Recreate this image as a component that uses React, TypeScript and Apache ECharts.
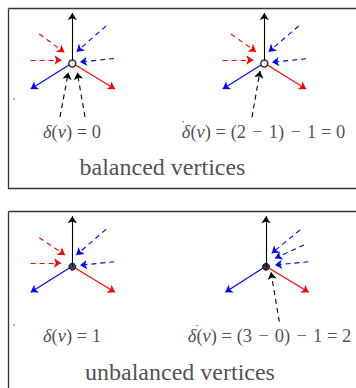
import React, { useEffect, useRef } from "react";
import * as echarts from "echarts";

type Edge = [number, number, number, number, string, boolean]; // x1,y1,x2,y2,color,dashed

const RED = "#ff0000";
const BLUE = "#0000ff";
const BLACK = "#000000";

// vertex positions and kind
const vertexPoints: [number, number][] = [[72.3, 63.5], [264.3, 63.5], [72.3, 266.7], [266, 266.7]];
const vertexFilled: boolean[] = [false, false, true, true];
const vertexFill: string[] = ["#ffffff", "#ffffff", "#10103a", "#000000"];

// edges of the four vertices
const edgesV1: Edge[] = [
  [72.3, 63.5, 72.3, 13, BLACK, false],
  [69, 65, 30.7, 89, BLUE, false],
  [75.5, 65, 115, 89, RED, false],
  [39.3, 34, 64.3, 52.3, RED, true],
  [30.7, 60, 61.5, 60, RED, true],
  [106, 26, 76.7, 51.7, BLUE, true],
  [114, 58.5, 80, 62, BLUE, true],
  [60, 117, 68.3, 72.5, BLACK, true],
  [85, 117, 77.3, 72.5, BLACK, true],
];
const edgesV2: Edge[] = [
  [264.3, 63.5, 264.3, 13, BLACK, false],
  [261, 65, 222.7, 89, BLUE, false],
  [267.5, 65, 306, 89, RED, false],
  [231, 34, 256, 51.7, RED, true],
  [222.7, 60, 253.3, 60, RED, true],
  [298.7, 26, 268.7, 51.7, BLUE, true],
  [306, 58.7, 272, 62.3, BLUE, true],
  [252, 117.3, 260, 71, BLACK, true],
];
const edgesV3: Edge[] = [
  [72.3, 266.7, 72.3, 216.3, BLACK, false],
  [69, 268.2, 30.7, 292.3, BLUE, false],
  [75.5, 268.2, 115, 292.3, RED, false],
  [39.3, 237.7, 65, 255, RED, true],
  [30.7, 263, 61, 263, RED, true],
  [106, 229.3, 76.3, 255, BLUE, true],
  [114.3, 261.7, 80, 265.3, BLUE, true],
];
const edgesV4: Edge[] = [
  [266, 266.7, 266, 216.3, BLACK, false],
  [262.7, 268.2, 225.3, 292.3, BLUE, false],
  [269.3, 268.2, 308.7, 292.3, RED, false],
  [300, 230, 271.7, 253.3, BLUE, true],
  [304, 245, 275, 258.3, BLUE, true],
  [308.3, 261.7, 275, 265, BLUE, true],
  [279.3, 321.7, 271, 272.3, BLACK, true],
];

// panel frames: x1,y1,x2,y2
const frames: [number, number, number, number][] = [[8.5, 8.5, 360, 188.5], [8.5, 211.5, 360, 400]];

// tiny red specks
const specks: [number, number][] = [[14, 99], [183.3, 121.7], [14, 325], [197, 325.7]];

// labels
const formulaLabels: string[] = [
  "{i|δ}{r|(}{i|v}{r|) = 0}",
  "{i|δ}{r|(}{i|v}{r|) = (2 \u200A−\u200A 1) \u200A−\u200A 1 = 0}",
  "{i|δ}{r|(}{i|v}{r|) = 1}",
  "{i|δ}{r|(}{i|v}{r|) = (3 \u200A−\u200A 0) \u200A−\u200A 1 = 2}",
];
const formulaPos: [number, number][] = [[72, 132], [263.5, 132], [72, 336], [269.5, 336]];
const titles: string[] = ["balanced vertices", "unbalanced vertices"];
const titlePos: [number, number][] = [[162.5, 167], [180, 372]];

export default function App() {
  const ref = useRef<HTMLDivElement>(null);
  useEffect(() => {
    if (!ref.current) return;
    const chart = echarts.init(ref.current, null, { renderer: "svg" });
    const allEdges = [...edgesV1, ...edgesV2, ...edgesV3, ...edgesV4];
    const font = "Liberation Serif";
    const textColor = "#222";
    const fs = 18.5;
    const ts = 24;
    chart.setOption({
      animation: false,
      backgroundColor: "#ffffff",
      textStyle: { fontFamily: font },
      grid: { left: 0, right: 0, top: 0, bottom: 0 },
      xAxis: { type: "value", min: 0, max: 356, show: false },
      yAxis: { type: "value", min: 0, max: 388, inverse: true, show: false },
      series: [
        {
          type: "lines",
          coordinateSystem: "cartesian2d",
          symbol: ["none", "none"],
          silent: true,
          z: 1,
          data: frames.map(([x1, y1, x2, y2]) => ({
            coords: [[x1, y1], [x2, y1], [x2, y2], [x1, y2], [x1, y1]],
            lineStyle: { color: "#333", width: 1.3, type: "solid", opacity: 1 },
          })),
          polyline: true,
        },
        {
          type: "lines",
          coordinateSystem: "cartesian2d",
          symbol: ["none", "arrow"],
          symbolSize: 7,
          silent: true,
          z: 2,
          data: allEdges.map(([x1, y1, x2, y2, c, d]) => ({
            coords: [[x1, y1], [x2, y2]],
            lineStyle: { color: c, width: 1.1, type: d ? [5, 4] : "solid", opacity: 1 },
            itemStyle: { color: c },
          })),
        },
        {
          type: "scatter",
          z: 3,
          symbol: "circle",
          symbolSize: 7,
          silent: true,
          data: vertexPoints.map((p, i) => ({
            value: p,
            itemStyle: {
              color: vertexFill[i],
              borderColor: "#000",
              borderWidth: vertexFilled[i] ? 1 : 1.5,
            },
          })),
        },
        {
          type: "scatter",
          z: 3,
          symbol: "rect",
          symbolSize: 1.3,
          silent: true,
          itemStyle: { color: RED },
          data: specks,
        },
        {
          type: "scatter",
          z: 4,
          symbolSize: 0,
          silent: true,
          data: formulaLabels.map((t, i) => ({
            value: formulaPos[i],
            label: {
              show: true,
              position: "inside",
              formatter: t,
              fontFamily: font,
              fontSize: fs,
              color: textColor,
              rich: {
                i: { fontStyle: "italic", fontFamily: font, fontSize: fs, color: textColor },
                r: { fontFamily: font, fontSize: fs, color: textColor },
              },
            },
          })),
        },
        {
          type: "scatter",
          z: 4,
          symbolSize: 0,
          silent: true,
          data: titles.map((t, i) => ({
            value: titlePos[i],
            label: {
              show: true,
              position: "inside",
              formatter: "{t|" + t + "}",
              fontFamily: font,
              fontSize: ts,
              color: textColor,
              rich: { t: { fontFamily: font, fontSize: ts, color: textColor } },
            },
          })),
        },
      ],
    });
    return () => chart.dispose();
  }, []);
  return (
    <div
      ref={ref}
      style={{ position: "fixed", left: 0, top: 0, width: 356, height: 388, background: "#fff" }}
    />
  );
}
